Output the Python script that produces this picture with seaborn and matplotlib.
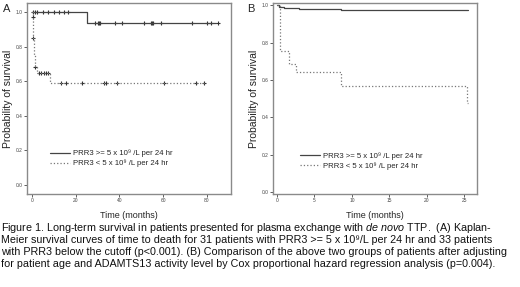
import seaborn as sns
import matplotlib.pyplot as plt
import pandas as pd
import numpy as np

# Kaplan-Meier step data
# panel A, PRR3 >= 5 (solid)
a_hi_times = [0, 25, 84]
a_hi_surv = [1.0, 0.935, 0.935]
a_hi_cens_t = [0.5, 1.5, 2.5, 5, 7.5, 10, 12.5, 14.5, 16.5, 30, 31,
               28.6, 30.5, 38, 41, 51, 54.5, 55, 55.5, 59, 73, 80, 82, 85]
# panel A, PRR3 < 5 (dotted)
a_lo_times = [0, 0.3, 0.6, 0.9, 1.4, 2.4, 8, 79]
a_lo_surv = [1.0, 0.97, 0.85, 0.75, 0.68, 0.65, 0.59, 0.59]
a_lo_cens_t = [0.3, 0.6, 1.4, 3, 4, 5.5, 6.5, 7.5,
               13.4, 15.6, 23, 33, 34, 39, 60.5, 75, 78.5]

# panel B (Cox adjusted curves)
b_hi_times = [0, 0.3, 1, 3, 8.5, 25.3, 25.5]
b_hi_surv = [1.0, 0.993, 0.988, 0.983, 0.977, 0.974, 0.974]
b_lo_times = [0, 0.4, 1.6, 2.5, 8.5, 25.3, 25.5]
b_lo_surv = [1.0, 0.758, 0.686, 0.645, 0.569, 0.476, 0.476]

legend_hi = "PRR3 >= 5 x 10\u2079 /L per 24 hr"
legend_lo = "PRR3 < 5 x 10\u2079 /L per 24 hr"

caption = [
    "Figure 1. Long-term survival in patients presented for plasma exchange with $\\it{de\\ novo}$ TTP.  (A) Kaplan-",
    "Meier survival curves of time to death for 31 patients with PRR3 >= 5 x 10\u2079/L per 24 hr and 33 patients",
    "with PRR3 below the cutoff (p<0.001). (B) Comparison of the above two groups of patients after adjusting",
    "for patient age and ADAMTS13 activity level by Cox proportional hazard regression analysis (p=0.004).",
]

sns.set_style("white")
plt.rcParams["font.family"] = ["Liberation Sans", "DejaVu Sans"]
plt.rcParams["mathtext.fontset"] = "custom"
plt.rcParams["mathtext.rm"] = "Liberation Sans"
plt.rcParams["mathtext.it"] = "Liberation Sans:italic"

fig = plt.figure(figsize=(5.2, 2.87), dpi=100)
axA = fig.add_axes([27 / 520, 1 - 194 / 287, 204 / 520, 191 / 287])
axB = fig.add_axes([273 / 520, 1 - 194 / 287, 204 / 520, 191 / 287])

frame = "#8a8a8a"


def step_value(times, surv, t):
    idx = np.searchsorted(times, t, side="right") - 1
    return np.array(surv)[idx]


def km(ax, times, surv, style, color, label):
    df = pd.DataFrame({"t": times, "s": surv})
    sns.lineplot(data=df, x="t", y="s", ax=ax, drawstyle="steps-post",
                 color=color, linestyle=style, linewidth=0.9, label=label)


km(axA, a_hi_times, a_hi_surv, "-", "#444444", legend_hi)
km(axA, a_lo_times, a_lo_surv, ":", "#777777", legend_lo)
hi_c = pd.DataFrame({"t": a_hi_cens_t,
                     "s": step_value(a_hi_times, a_hi_surv, a_hi_cens_t)})
lo_c = pd.DataFrame({"t": a_lo_cens_t,
                     "s": step_value(a_lo_times, a_lo_surv, a_lo_cens_t)})
for d in (hi_c, lo_c):
    sns.scatterplot(data=d, x="t", y="s", ax=axA, marker="+", s=12,
                    color="#333333", linewidth=0.8, legend=False)

km(axB, b_hi_times, b_hi_surv, "-", "#444444", legend_hi)
km(axB, b_lo_times, b_lo_surv, ":", "#777777", legend_lo)

axA.set_xlim(-2.3, 91)
axA.set_ylim(-0.052, 1.052)
axA.set_xticks([0, 20, 40, 60, 80])
axB.set_xlim(-0.53, 26.7)
axB.set_ylim(-0.01, 1.013)
axB.set_xticks([0, 5, 10, 15, 20, 25])

for ax, lx, ly in ((axA, 0.113, 0.14), (axB, 0.132, 0.126)):
    ax.set_yticks([0.0, 0.2, 0.4, 0.6, 0.8, 1.0])
    ax.set_yticklabels(["0.0", "0.2", "0.4", "0.6", "0.8", "1.0"])
    ax.tick_params(axis="both", labelsize=3.5, length=2, width=0.6,
                   colors="#444444", pad=1, direction="out",
                   bottom=True, left=True)
    for sp in ax.spines.values():
        sp.set_color(frame)
        sp.set_linewidth(1.0)
    ax.set_xlabel("Time (months)", fontsize=6.5, labelpad=6)
    ax.set_ylabel("Probability of survival", fontsize=7.5, labelpad=2,
                  color="#222222")
    ax.legend(loc="lower left", bbox_to_anchor=(lx, ly),
              frameon=False, fontsize=5.6, handlelength=2.6,
              handletextpad=0.4, labelspacing=0.3, borderpad=0,
              borderaxespad=0)

fig.text(3 / 520, 1 - 12 / 287, "A", fontsize=8)
fig.text(247 / 520, 1 - 12 / 287, "B", fontsize=8)

for i, line in enumerate(caption):
    fig.text(1 / 520, 1 - (231 + 12 * i) / 287, line, fontsize=7.75,
             color="#111111")

fig.savefig("out.png", dpi=100)
